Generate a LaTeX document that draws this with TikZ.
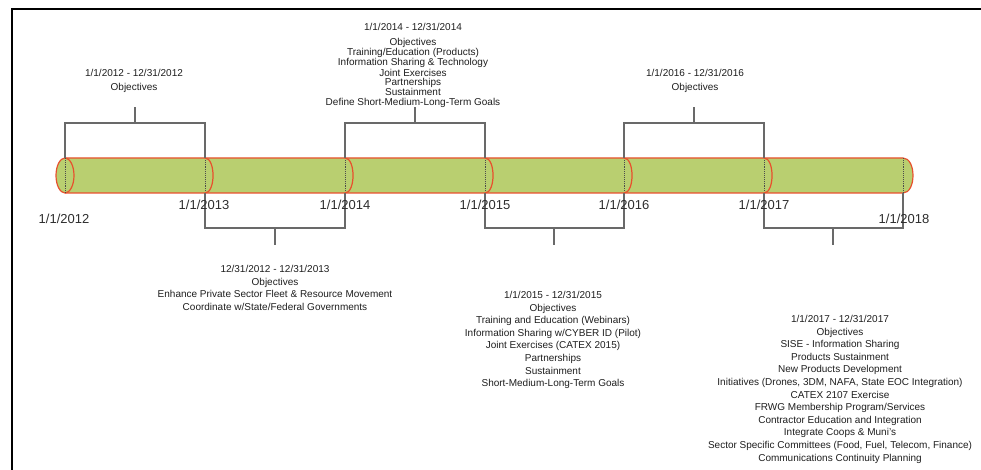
\documentclass[tikz,border=0pt]{standalone}
\usepackage{fontspec}
\setmainfont{Liberation Sans}
\definecolor{barfill}{RGB}{185,207,112}
\definecolor{barline}{RGB}{232,80,45}
\definecolor{bgray}{RGB}{105,105,105}
\definecolor{tgray}{RGB}{30,30,30}
\definecolor{dgray}{RGB}{45,45,45}
\begin{document}
\begin{tikzpicture}[x=1pt,y=-1pt,
  bracket/.style={draw=bgray, line width=1.3pt},
  edge/.style={draw=barline, line width=1.2pt},
  divider/.style={draw=black!70, densely dotted, line width=0.9pt},
  datelbl/.style={font=\fontsize{13}{15}\selectfont, text=dgray, inner sep=0},
  callout/.style={font=\fontsize{10}{12.6}\selectfont, align=center, inner sep=0, anchor=north, text=tgray},
  tightcallout/.style={callout, font=\fontsize{10}{9.3}\selectfont},
]
\useasboundingbox (0,0) rectangle (981,470);
% frame
\draw[line width=2pt] (12,470) -- (12,9) -- (981,9);

% boundary coordinates
\foreach \i/\x in {0/65,1/205,2/345,3/485,4/624,5/764,6/903}{
  \coordinate (t\i) at (\x,158);
  \coordinate (b\i) at (\x,193);
}

% bar body
\fill[barfill] (t0) -- (t6) .. controls +(13.3,0) and +(13.3,0) .. (b6) -- (b0) -- cycle;
\draw[edge] (t0) -- (t6) .. controls +(13.3,0) and +(13.3,0) .. (b6) -- (b0);
\draw[edge, fill=barfill] (65,175.5) ellipse [x radius=9, y radius=17.5];
\draw[divider] (t0) -- (b0);
\foreach \k in {1,...,5}{
  \draw[divider] (t\k) -- (b\k);
  \draw[edge] (t\k) .. controls +(10.7,0) and +(10.7,0) .. (b\k);
}
\draw[divider] (t6) -- (b6);

% top brackets
\coordinate (tk0) at (135,123);  \coordinate (tt0) at (135,107);
\coordinate (tk2) at (415,123);  \coordinate (tt2) at (415,107);
\coordinate (tk4) at (694,123);  \coordinate (tt4) at (694,107);
\draw[bracket] (t0) |- (tk0) -| (t1);  \draw[bracket] (tk0) -- (tt0);
\draw[bracket] (t2) |- (tk2) -| (t3);  \draw[bracket] (tk2) -- (tt2);
\draw[bracket] (t4) |- (tk4) -| (t5);  \draw[bracket] (tk4) -- (tt4);

% bottom brackets
\coordinate (bk1) at (275,228);  \coordinate (bb1) at (275,245);
\coordinate (bk3) at (554,228);  \coordinate (bb3) at (554,245);
\coordinate (bk5) at (833,228);  \coordinate (bb5) at (833,245);
\draw[bracket] (b1) |- (bk1) -| (b2);  \draw[bracket] (bk1) -- (bb1);
\draw[bracket] (b3) |- (bk3) -| (b4);  \draw[bracket] (bk3) -- (bb3);
\draw[bracket] (b5) |- (bk5) -| (b6);  \draw[bracket] (bk5) -- (bb5);

% date labels
\node[datelbl] (d2012) at (64,219) {1/1/2012};
\node[datelbl] (d2013) at (204,205) {1/1/2013};
\node[datelbl] (d2014) at (345,205) {1/1/2014};
\node[datelbl] (d2015) at (485,205) {1/1/2015};
\node[datelbl] (d2016) at (624,205) {1/1/2016};
\node[datelbl] (d2017) at (764,205) {1/1/2017};
\node[datelbl] (d2018) at (904,219) {1/1/2018};

% callouts
\node[callout] (c2012) at (134,69) {1/1/2012 - 12/31/2012\\[1.4pt] Objectives};
\node[tightcallout] (c2014) at (413,23) {1/1/2014 - 12/31/2014\\[5.5pt] Objectives\\ Training/Education (Products)\\ Information Sharing \& Technology\\ Joint Exercises\\ Partnerships\\ Sustainment\\ Define Short-Medium-Long-Term Goals};
\node[callout] (c2016) at (695,69) {1/1/2016 - 12/31/2016\\[1.4pt] Objectives};
\node[callout] (c2013) at (275,265) {12/31/2012 - 12/31/2013\\ Objectives\\ Enhance Private Sector Fleet \& Resource Movement\\ Coordinate w/State/Federal Governments};
\node[callout] (c2015) at (553,291) {1/1/2015 - 12/31/2015\\ Objectives\\ Training and Education (Webinars)\\ Information Sharing w/CYBER ID (Pilot)\\ Joint Exercises (CATEX 2015)\\ Partnerships\\ Sustainment\\ Short-Medium-Long-Term Goals};
\node[callout] (c2017) at (840,315) {1/1/2017 - 12/31/2017\\ Objectives\\ SISE - Information Sharing\\ Products Sustainment\\ New Products Development\\ Initiatives (Drones, 3DM, NAFA, State EOC Integration)\\ CATEX 2107 Exercise\\ FRWG Membership Program/Services\\ Contractor Education and Integration\\ Integrate Coops \& Muni's\\ Sector Specific Committees (Food, Fuel, Telecom, Finance)\\ Communications Continuity Planning};
\end{tikzpicture}
\end{document}
